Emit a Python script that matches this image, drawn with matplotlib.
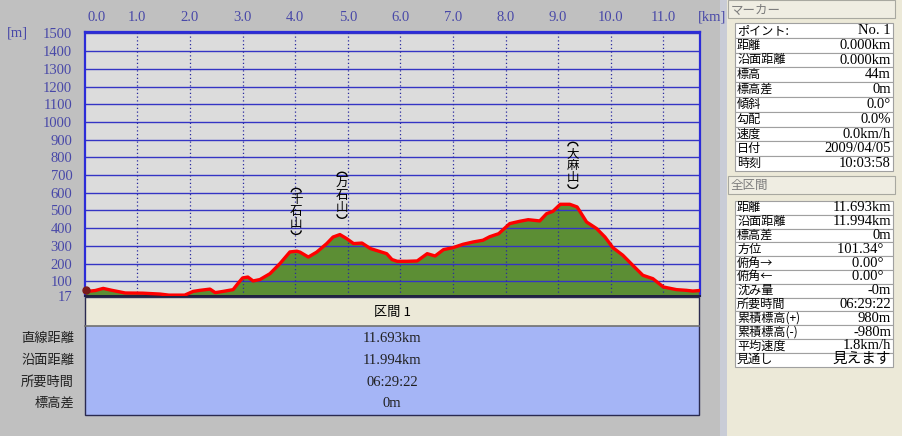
import matplotlib
matplotlib.use('Agg')
import matplotlib.pyplot as plt
from matplotlib.patches import Rectangle, Arc
from matplotlib.transforms import blended_transform_factory

plt.rcParams['font.family'] = ['Noto Sans CJK JP', 'DejaVu Sans']

# ===============================
# DATA
# ===============================
dist_km = [0.00, 0.08, 0.20, 0.35, 0.50, 0.67, 0.77, 1.10, 1.43, 1.60, 1.90,
           2.06, 2.19, 2.38, 2.48, 2.63, 2.82, 2.91, 3.00, 3.10, 3.20, 3.33,
           3.52, 3.71, 3.90, 4.03, 4.09, 4.25, 4.41, 4.60, 4.72, 4.85, 4.98,
           5.11, 5.27, 5.43, 5.58, 5.74, 5.84, 5.94, 6.13, 6.32, 6.51, 6.66,
           6.82, 7.00, 7.19, 7.38, 7.57, 7.70, 7.87, 8.08, 8.27, 8.43, 8.65,
           8.78, 8.90, 9.04, 9.22, 9.36, 9.54, 9.73, 9.89, 10.04, 10.23, 10.42,
           10.61, 10.80, 11.00, 11.25, 11.44, 11.56, 11.693]
elev_m = [44, 44, 48, 60, 50, 40, 34, 33, 28, 22, 22,
          43, 49, 56, 36, 43, 53, 87, 119, 124, 102, 110,
          143, 200, 266, 270, 265, 237, 265, 313, 350, 364, 341,
          313, 316, 285, 271, 256, 223, 213, 213, 215, 256, 243,
          279, 290, 309, 322, 332, 352, 369, 426, 439, 448, 441,
          482, 495, 535, 535, 520, 435, 398, 350, 290, 247, 190,
          134, 115, 68, 53, 49, 45, 48]

peak_names = ['千石山', '万石山', '大麻山']
peak_km = [4.02, 4.89, 9.28]
peak_label_m = [495, 586, 755]

km_ticks = [0.0, 1.0, 2.0, 3.0, 4.0, 5.0, 6.0, 7.0, 8.0, 9.0, 10.0, 11.0]
m_ticks = [17, 100, 200, 300, 400, 500, 600, 700, 800, 900, 1000,
           1100, 1200, 1300, 1400, 1500]

section_title = '区間 1'
section_rows = ['直線距離', '沿面距離', '所要時間', '標高差']
section_vals = ['11.693km', '11.994km', '06:29:22', '0m']

marker_title = 'マーカー'
marker_labels = ['ポイント:', '距離', '沿面距離', '標高', '標高差', '傾斜', '勾配',
                 '速度', '日付', '時刻']
marker_vals = ['No. 1', '0.000km', '0.000km', '44m', '0m', '0.0°', '0.0%',
               '0.0km/h', '2009/04/05', '10:03:58']

total_title = '全区間'
total_labels = ['距離', '沿面距離', '標高差', '方位', '俯角→', '俯角←', '沈み量',
                '所要時間', '累積標高(+)', '累積標高(-)', '平均速度', '見通し']
total_vals = ['11.693km', '11.994km', '0m', '101.34°  ', '0.00°  ', '0.00°  ',
              '-0m', '06:29:22', '980m', '-980m', '1.8km/h', '見えます']

# ===============================
# STYLE
# ===============================
W, H = 902, 436
GRAY = '#C0C0C0'
PANEL = '#ECE9D8'
BLUE_TXT = '#4848A8'
NUM_FONT = ['Liberation Serif', 'Noto Sans CJK JP']

fig = plt.figure(figsize=(W / 100, H / 100), dpi=100, facecolor=GRAY)

# background canvas in pixel coords
bg = fig.add_axes([0, 0, 1, 1])
bg.set_xlim(0, W)
bg.set_ylim(H, 0)
bg.axis('off')

# right side panel
bg.add_patch(Rectangle((720, 0), 7, H, fc='#C9CCD6', ec='none'))
bg.add_patch(Rectangle((727, 0), W - 727, H, fc=PANEL, ec='none'))


def header_bar(y, text):
    bg.add_patch(Rectangle((728, y), 167, 18, fc='#EFEDE2', ec='#A8A8A0', lw=0.8))
    bg.text(731, y + 9.5, text, fontsize=9, color='#7C7C7C', va='center', ha='left')


def info_table(top, row_h, labels, values):
    for i, (lab, val) in enumerate(zip(labels, values)):
        y = top + i * row_h
        bg.add_patch(Rectangle((735, y), 158, row_h, fc='white', ec='#A0A0A0', lw=0.8))
        bg.text(737, y + row_h / 2, lab, fontsize=8.7, va='center', ha='left', color='black')
        bg.text(891, y + row_h / 2, val, fontsize=10.5, va='center', ha='right',
                color='black', family=NUM_FONT)


header_bar(0.5, marker_title)
info_table(23, 14.8, marker_labels, marker_vals)
header_bar(176, total_title)
info_table(201, 13.8, total_labels, total_vals)

# section table under the profile
bg.add_patch(Rectangle((85, 297), 614, 29, fc=PANEL, ec='none'))
bg.add_patch(Rectangle((85, 326), 614, 89, fc='#A5B5F6', ec='none'))
bg.plot([85, 699], [326, 326], color='#707070', lw=1.2)
bg.add_patch(Rectangle((85, 297), 614, 118, fill=False, ec='#2A2A50', lw=1))
bg.text(392, 312, section_title, fontsize=9.5, ha='center', va='center', color='black')
row_y = [338, 360, 382, 403]
for lab, val, y in zip(section_rows, section_vals, row_y):
    bg.text(74, y, lab, fontsize=9.5, ha='right', va='center', color='#202020')
    bg.text(392, y, val, fontsize=10.5, ha='center', va='center', color='#202020',
            family=NUM_FONT)

bg.text(7, 33, '[m]', fontsize=10.5, color=BLUE_TXT, va='center', ha='left', family=NUM_FONT)
bg.text(712, 17, '[km]', fontsize=10.5, color=BLUE_TXT, va='center', ha='center', family=NUM_FONT)

# ===============================
# ELEVATION PROFILE
# ===============================
ax = fig.add_axes([84.8 / W, 1 - 296 / H, (699.8 - 84.8) / W, (296 - 32) / H])
ax.set_facecolor('#DCDCDC')
ax.set_xlim(0, 11.693)
ax.set_ylim(17, 1508)

ax.fill_between(dist_km, elev_m, 17, color='#5C8E34', lw=0, zorder=1)
for m in m_ticks[1:]:
    ax.axhline(m, color='#3434C4', lw=1, zorder=2)
for k in km_ticks[1:]:
    ax.axvline(k, color='#2A2AA0', lw=0.9, ls=(0, (1, 2)), zorder=2)
ax.plot(dist_km, elev_m, color='#FF0000', lw=2.4, zorder=3, solid_joinstyle='round')

# start marker (hiker)
ax.plot([0.03], [50], marker='o', ms=5, color='#7A1A1A', zorder=4, clip_on=False)

# peak names, written vertically with arc brackets
for name, k, m in zip(peak_names, peak_km, peak_label_m):
    ax.text(k, m, '\n'.join(name), fontsize=9, ha='center', va='center',
            linespacing=0.88, color='black', zorder=4)
    dx, dy = ax.transData.transform((k, m))
    px, py = dx, H - dy
    # arcs live on a top overlay in pixel coords
    fig.patches.append(Arc((px / W, 1 - (py - 19) / H), 10 / W, 8 / H,
                           theta1=0, theta2=180, color='black', lw=1,
                           transform=fig.transFigure))
    fig.patches.append(Arc((px / W, 1 - (py + 19) / H), 10 / W, 8 / H,
                           theta1=180, theta2=360, color='black', lw=1,
                           transform=fig.transFigure))

ax.set_yticks(m_ticks)
ax.set_yticklabels([str(m) for m in m_ticks], fontsize=10.5, color=BLUE_TXT,
                   family=NUM_FONT)
ax.tick_params(axis='y', length=0, pad=9)
ax.set_xticks([])

trans = blended_transform_factory(ax.transData, ax.transAxes)
for k in km_ticks:
    xk = 0.23 if k == 0 else k
    ax.text(xk, 1.055, f'{k:.1f}', transform=trans, fontsize=10.5, color=BLUE_TXT,
            ha='center', va='center', family=NUM_FONT)

for side in ['top', 'left', 'right']:
    ax.spines[side].set_color('#2C2CD8')
    ax.spines[side].set_linewidth(1.6)
ax.spines['bottom'].set_color('#202040')
ax.spines['bottom'].set_linewidth(1.4)

plt.savefig('out.png', dpi=100, facecolor=GRAY)
